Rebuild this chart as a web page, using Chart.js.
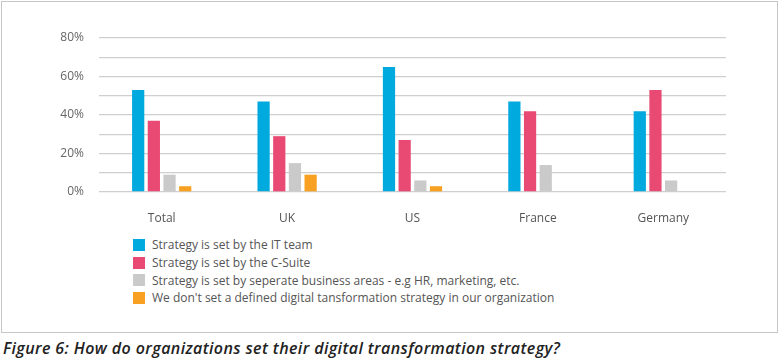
<!DOCTYPE html>
<html lang="en">
<head>
<meta charset="UTF-8">
<title>Digital transformation strategy</title>
<script src="https://cdn.jsdelivr.net/npm/chart.js"></script>
<style>
    body { margin: 0; background: #fff; font-family: "Open Sans", sans-serif; }
    #wrap { position: relative; width: 779px; height: 361px; overflow: hidden; }
    #frame { position: absolute; left: 1px; top: 1px; width: 775px; height: 330px; border: 1px solid #c6c6c6; }
    #chartBox { position: absolute; left: 0; top: 0; width: 779px; height: 225px; }
    #legend { position: absolute; left: 133px; top: 236px; font-size: 12px; color: #555; }
    .leg-row { height: 17.7px; display: flex; align-items: center; }
    .leg-box { width: 12px; height: 12px; margin-right: 7px; }
    #caption { position: absolute; left: 3px; top: 337px; font-size: 16px; font-weight: 600; font-style: italic; color: #222; white-space: nowrap; letter-spacing: 0.4px; }
</style>
</head>
<body>
<div id="wrap">
    <div id="frame"></div>
    <div id="chartBox"><canvas id="strategyChart" width="779" height="225"></canvas></div>
    <div id="legend"></div>
    <div id="caption">Figure 6: How do organizations set their digital transformation strategy?</div>
</div>

<script>
// categorias e series
const categories = ['Total', 'UK', 'US', 'France', 'Germany'];
const seriesLabels = [
    'Strategy is set by the IT team',
    'Strategy is set by the C-Suite',
    'Strategy is set by seperate business areas - e.g HR, marketing, etc.',
    "We don't set a defined digital tansformation strategy in our organization"
];
const itTeam = [53, 47, 65, 47, 42];
const cSuite = [37, 29, 27, 42, 53];
const businessAreas = [9, 15, 6, 14, 6];
const noStrategy = [3, 9, 3, 0, 0];
const colors = ['#00a9de', '#e84a74', '#cacaca', '#f7a021'];
const yTicks = [0, 20, 40, 60, 80];

const seriesValues = [itTeam, cSuite, businessAreas, noStrategy];

const ctx = document.getElementById('strategyChart').getContext('2d');
const chart = new Chart(ctx, {
    type: 'bar',
    data: {
        labels: categories,
        datasets: seriesValues.map((vals, i) => ({
            label: seriesLabels[i],
            data: vals,
            backgroundColor: colors[i],
            borderWidth: 0,
            categoryPercentage: 0.5,
            barPercentage: 0.78
        }))
    },
    options: {
        responsive: false,
        animation: false,
        layout: { padding: { top: 38, right: 53, left: 0, bottom: 0 } },
        plugins: {
            legend: { display: false },
            tooltip: { enabled: false }
        },
        scales: {
            x: {
                grid: { display: false },
                border: { display: false },
                ticks: { color: '#555', font: { family: 'Open Sans', size: 12 }, padding: 11 },
                afterFit: (s) => { s.height = 33; }
            },
            y: {
                min: 0,
                max: 80,
                border: { display: false },
                grid: { color: '#cfcfcf', lineWidth: 1.3, drawTicks: false },
                ticks: {
                    stepSize: 10,
                    color: '#666',
                    font: { family: 'Open Sans', size: 12 },
                    padding: 15,
                    callback: (v) => yTicks.includes(v) ? v + '%' : ''
                },
                afterFit: (s) => { s.width = 99; }
            }
        }
    }
});

// legenda em html, uma linha por serie
const legend = document.getElementById('legend');
seriesLabels.forEach((lbl, i) => {
    const row = document.createElement('div');
    row.className = 'leg-row';
    const box = document.createElement('div');
    box.className = 'leg-box';
    box.style.background = colors[i];
    const txt = document.createElement('span');
    txt.textContent = lbl;
    row.appendChild(box);
    row.appendChild(txt);
    legend.appendChild(row);
});
</script>
</body>
</html>
